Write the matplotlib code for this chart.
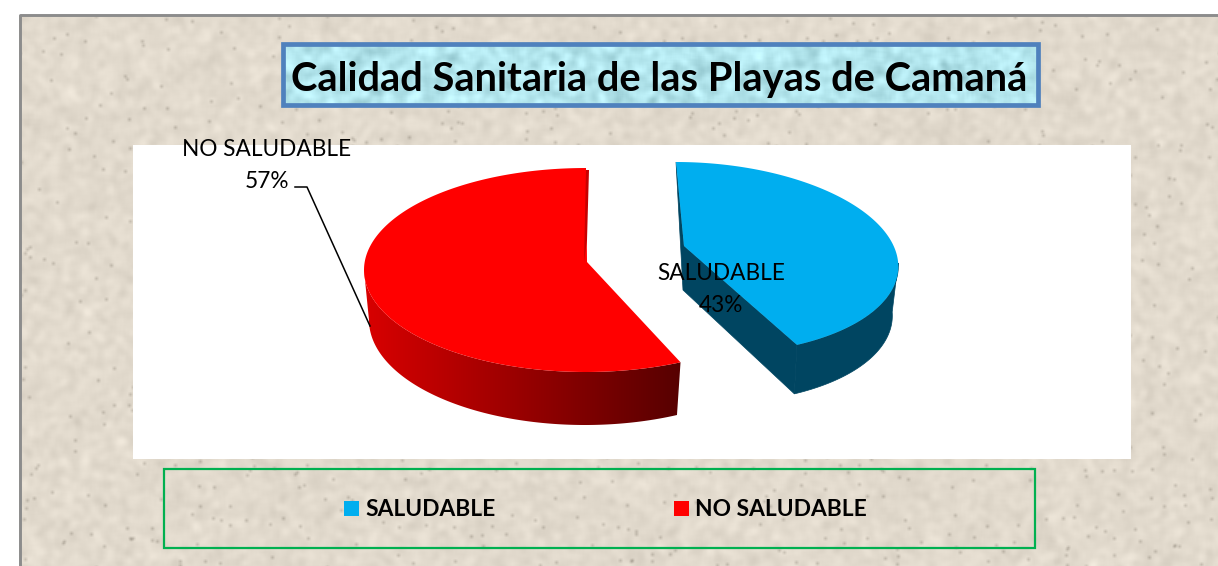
import numpy as np
import matplotlib
matplotlib.use("Agg")
import matplotlib.pyplot as plt
from matplotlib.patches import Polygon, Rectangle

plt.rcParams['font.family'] = ['Lato', 'DejaVu Sans']

# data
categories = ["SALUDABLE", "NO SALUDABLE"]
values = [43, 57]
colors = ["#00AEEF", "#FF0000"]
title = "Calidad Sanitaria de las Playas de Camaná"

W, H = 1218, 566


def blur(a, n):
    # box blur, wraps around
    k = np.zeros(a.shape)
    k[:n, :n] = 1 / n**2
    return np.real(np.fft.ifft2(np.fft.fft2(a) * np.fft.fft2(k)))


def texture(shape, base, spread, seed, dots=0.0015):
    # only a paper texture for the background, not data
    rng = np.random.default_rng(seed)
    soft = blur(blur(rng.normal(size=shape), 7), 7) * 7
    spots = blur(blur((rng.random(shape) < dots) * 1.0, 3), 3) * 9
    img = np.array(base)[None, None, :] + soft[..., None] * spread - spots[..., None] * 0.12
    return np.clip(img, 0, 1)


def arc(cx, cy, a, b, t0, t1, skew=0.0, n=200):
    t = np.radians(np.linspace(t0, t1, n))
    x = cx + a * np.cos(t) - skew * b * np.sin(t)
    y = cy - b * np.sin(t)
    return np.column_stack([x, y])


fig = plt.figure(figsize=(W / 100, H / 100), dpi=100, facecolor="white")
ax = fig.add_axes([0, 0, 1, 1])

# background
ax.imshow(texture((H - 15, W - 19), (0.886, 0.855, 0.804), 0.02, 3),
          extent=(19, W, H, 15), zorder=0, aspect="auto")
ax.plot([19.5, 19.5, W], [H, 15.3, 15.3], color="#8c8c8c", lw=2.1, zorder=1)

# title box
ax.imshow(texture((63, 757), (0.70, 0.90, 0.93), 0.05, 5, 0.0),
          extent=(282, 1039, 106, 43), zorder=1, aspect="auto")
ax.add_patch(Rectangle((283, 44), 755, 61, fc="none", ec="#4F81BD", lw=3.4, zorder=2))
ax.text(659, 79.5, title, fontsize=28.7, fontweight="bold", ha="center", va="center", zorder=3)

# white plot area
ax.add_patch(Rectangle((133, 145), 998, 314, fc="white", ec="none", zorder=1))

# angles come from the values, both slices start at the top
red_span = values[1] / sum(values) * 360
blue_span = values[0] / sum(values) * 360

# red slice, goes counter clockwise from the top
r_cx, r_cy, r_a, r_b, r_d = 586, 270, 222, 102, 50
r_end = 90 + red_span
side_top = arc(r_cx, r_cy, r_a, r_b, 180, r_end)
side_bot = arc(r_cx - 1, r_cy + r_d, r_a - 6, r_b + 3, 180, r_end)
side = Polygon(np.vstack([side_top, side_bot[::-1]]), fc="none", ec="none", zorder=3)
ax.add_patch(side)
grad = np.linspace(0, 1, 256)[None, :, None]
grad_img = (1 - grad) * np.array([0.85, 0, 0]) + grad * np.array([0.34, 0, 0])
im = ax.imshow(grad_img, extent=(side_top[:, 0].min(), side_top[:, 0].max(), 430, 270),
               zorder=3, aspect="auto")
im.set_clip_path(side)
red_top = arc(r_cx, r_cy, r_a, r_b, 90, r_end)
ax.add_patch(Polygon(np.vstack([[[587, 262]], red_top]), fc=colors[1], ec="none", zorder=4))
# thin inner face next to the top edge
ax.add_patch(Polygon([[589, 170], [587, 240], [584, 262], [586, 170]], fc="#C80000", ec="none", zorder=4))

# blue slice, pulled out to the right
b_cx, b_cy, b_a, b_b, b_d, b_skew = 694, 258, 203.5, 96, 49, 0.1875
b_end = 90 - blue_span
blue_top = arc(b_cx, b_cy, b_a, b_b, 90, b_end, b_skew)
blue_bot = arc(b_cx, b_cy + b_d, b_a - 6, b_b, -3, b_end, b_skew)
blue_side = arc(b_cx, b_cy, b_a, b_b, -3, b_end, b_skew)
ax.add_patch(Polygon(np.vstack([blue_side, blue_bot[::-1]]), fc="#004561", ec="#004561", lw=0.5, zorder=5))
apex = np.array([684, 246])
ax.add_patch(Polygon([blue_top[0], apex, blue_top[-1], blue_bot[-1], apex + [-1, 44], blue_top[0]],
                     fc="#004561", ec="#004561", lw=0.5, zorder=5))
ax.add_patch(Polygon(np.vstack([[apex], blue_top]), fc=colors[0], ec="none", zorder=6))

# data labels
lab_size = 16.3
ax.text(267, 149, categories[1], fontsize=lab_size, ha="center", va="center", zorder=7)
ax.text(289, 182, "%d%%" % values[1], fontsize=lab_size, ha="right", va="center", zorder=7)
ax.plot([295, 307, 370], [187, 187, 326], color="black", lw=1.1, zorder=7)
ax.text(721, 274, categories[0], fontsize=lab_size, ha="center", va="center", zorder=7)
ax.text(721, 306, "%d%%" % values[0], fontsize=lab_size, ha="center", va="center", zorder=7)

# legend
ax.add_patch(Rectangle((164, 469), 871, 79, fc="none", ec="#00B050", lw=1.6, zorder=2))
for sx, tx, name, col in zip([344, 674], [365, 695], categories, colors):
    ax.add_patch(Rectangle((sx, 501), 15, 15, fc=col, ec="none", zorder=3))
    ax.text(tx, 510, name, fontsize=16.4, fontweight="bold", ha="left", va="center", zorder=3)

ax.set_xlim(0, W)
ax.set_ylim(H, 0)
ax.axis("off")

fig.savefig("out.png", dpi=100)
